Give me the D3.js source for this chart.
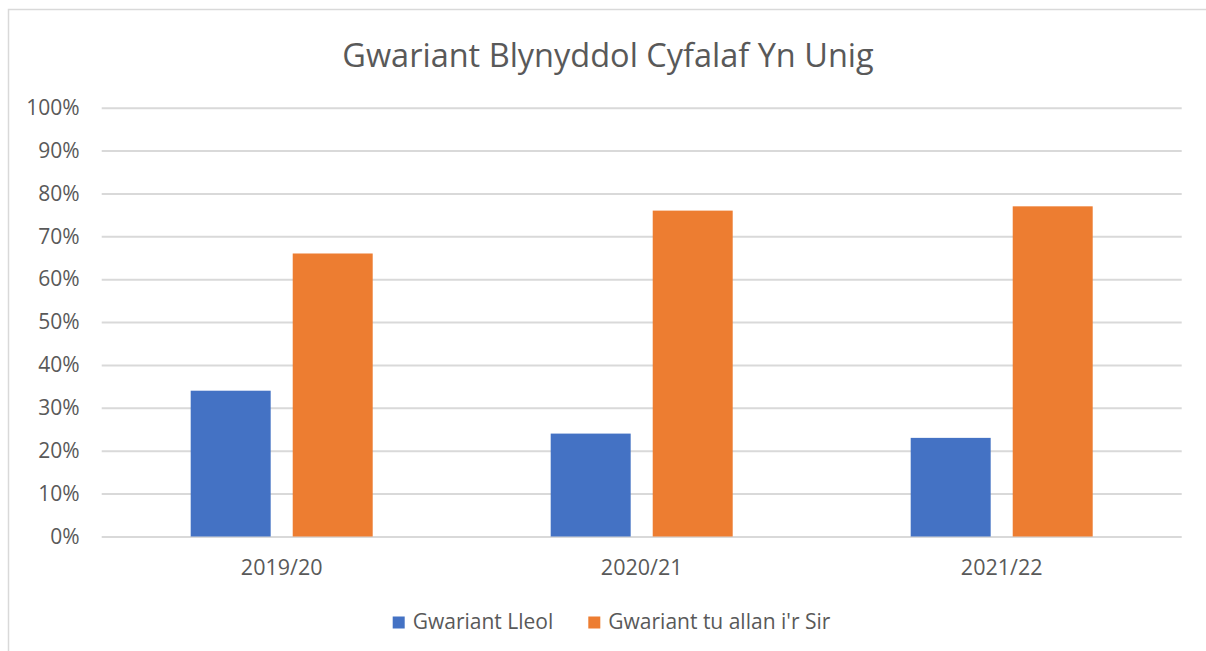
<!DOCTYPE html>
<html>
<head>
<meta charset="utf-8">
<script src="https://cdn.jsdelivr.net/npm/d3@7"></script>
<style>
  body { margin: 0; background: #fff; }
  svg { display: block; font-family: "Open Sans", "Noto Sans", sans-serif; }
</style>
</head>
<body>
<div id="chart"></div>
<script>
// chart values
const categories = ['2019/20', '2020/21', '2021/22'];
const seriesNames = ['Gwariant Lleol', "Gwariant tu allan i'r Sir"];
const localSpend = [34, 24, 23];
const outsideSpend = [66, 76, 77];
const yTicks = [0, 10, 20, 30, 40, 50, 60, 70, 80, 90, 100];
const chartTitle = 'Gwariant Blynyddol Cyfalaf Yn Unig';

const colors = ['#4472C4', '#ED7D31'];
const textColor = '#595959';
const gridColor = '#d9d9d9';

const dimensions = {
  width: 1206,
  height: 651,
  plot: { left: 101.7, right: 1181.7, top: 107.7, bottom: 536.5 }
};

// rows for the grouped bars
const rows = categories.map((c, i) => ({
  category: c,
  values: [localSpend[i], outsideSpend[i]]
}));

const svg = d3.select('#chart')
  .append('svg')
  .attr('width', dimensions.width)
  .attr('height', dimensions.height);

// outer chart frame (runs off the right and bottom edge in the reference)
svg.append('rect')
  .attr('x', 8.5).attr('y', 9.5)
  .attr('width', 1210).attr('height', 660)
  .attr('fill', '#fff')
  .attr('stroke', gridColor)
  .attr('stroke-width', 1.5);

svg.append('text')
  .attr('x', 608)
  .attr('y', 67)
  .attr('text-anchor', 'middle')
  .attr('font-size', '32.5px')
  .attr('fill', textColor)
  .text(chartTitle);

const yScale = d3.scaleLinear()
  .domain([0, 100])
  .range([dimensions.plot.bottom, dimensions.plot.top]);

const xScale = d3.scaleBand()
  .domain(categories)
  .range([dimensions.plot.left, dimensions.plot.right])
  .paddingInner(0)
  .paddingOuter(0);

// bars in each group: 80px wide with a 22px gap, centred in the band
const groupWidth = 182;
const groupOffset = (xScale.bandwidth() - groupWidth) / 2;
const seriesScale = d3.scaleBand()
  .domain(d3.range(seriesNames.length))
  .range([0, groupWidth])
  .paddingInner(0.216)
  .paddingOuter(0);

// Y axis with gridlines
const yAxis = d3.axisLeft(yScale)
  .tickValues(yTicks)
  .tickSize(-(dimensions.plot.right - dimensions.plot.left))
  .tickPadding(22)
  .tickFormat(d => d + '%');

const yAxisG = svg.append('g')
  .attr('transform', `translate(${dimensions.plot.left},0)`)
  .call(yAxis);
yAxisG.select('.domain').remove();
yAxisG.selectAll('.tick line').attr('stroke', gridColor).attr('stroke-width', 2);
yAxisG.selectAll('.tick text')
  .attr('fill', textColor)
  .attr('font-size', '21px')
  .attr('font-family', '"Open Sans", sans-serif');

// bars
const groups = svg.append('g').selectAll('.group')
  .data(rows)
  .enter().append('g')
  .attr('class', 'group')
  .attr('transform', d => `translate(${xScale(d.category) + groupOffset},0)`);

groups.selectAll('rect')
  .data(d => d.values.map((v, i) => ({ value: v, index: i })))
  .enter().append('rect')
  .attr('x', d => seriesScale(d.index))
  .attr('y', d => yScale(d.value))
  .attr('width', seriesScale.bandwidth())
  .attr('height', d => yScale(0) - yScale(d.value))
  .attr('fill', d => colors[d.index]);

// X axis labels only
const xAxis = d3.axisBottom(xScale).tickSize(0).tickPadding(23);
const xAxisG = svg.append('g')
  .attr('transform', `translate(0,${dimensions.plot.bottom})`)
  .call(xAxis);
xAxisG.select('.domain').remove();
xAxisG.selectAll('.tick text')
  .attr('fill', textColor)
  .attr('font-size', '21.5px')
  .attr('font-family', '"Open Sans", sans-serif');

// legend
const legendX = [392.7, 588.3];
const legend = svg.append('g');
const legendItem = legend.selectAll('.legendItem')
  .data(seriesNames)
  .enter().append('g')
  .attr('class', 'legendItem')
  .attr('transform', (d, i) => `translate(${legendX[i]},616.5)`);
legendItem.append('rect')
  .attr('width', 12).attr('height', 12)
  .attr('fill', (d, i) => colors[i]);
legendItem.append('text')
  .attr('x', 20)
  .attr('y', 12)
  .attr('font-size', '21px')
  .attr('fill', textColor)
  .text(d => d);
</script>
</body>
</html>
